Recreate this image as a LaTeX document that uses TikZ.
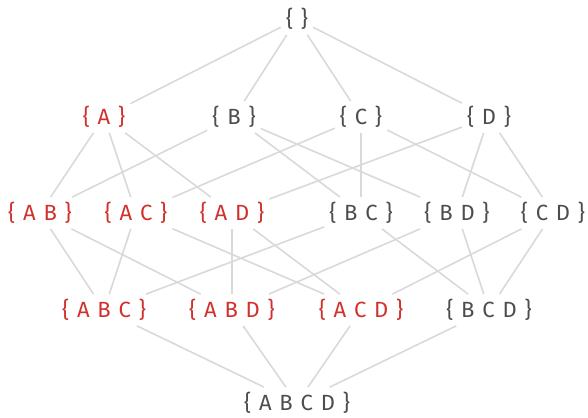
\documentclass[tikz,border=0pt]{standalone}
\usepackage{fontspec}
\setmainfont[LetterSpace=9]{Fira Sans}
\usepackage{xcolor}
\usepackage{tikz}
\usetikzlibrary{positioning}
\definecolor{setred}{HTML}{D0312D}
\definecolor{setgray}{HTML}{4D4D4D}
\definecolor{edgegray}{HTML}{D9D9D9}

\begin{document}
\begin{tikzpicture}[x=1pt,y=-1pt,
        font=\fontsize{22}{25}\selectfont,
        set node/.style={inner xsep=5pt,inner ysep=5pt,text=setgray},
        with a/.style={set node,text=setred},
        cover/.style={draw=edgegray,line width=1.6pt}]
      \useasboundingbox (0,0) rectangle (588,417);

      \node[set node] (e) at (297,19) {\{ \}};

      \node[with a] (a) at (104,117) {\{ A \}};
      \node[set node] (b) at (234,117) {\{ B \}};
      \node[set node] (c) at (361,117) {\{ C \}};
      \node[set node] (d) at (489,117) {\{ D \}};

      \node[with a] (ab) at (40,213) {\{ A B \}};
      \node[with a] (ac) at (136,213) {\{ A C \}};
      \node[with a] (ad) at (232,213) {\{ A D \}};
      \node[set node] (bc) at (361,213) {\{ B C \}};
      \node[set node] (bd) at (457,213) {\{ B D \}};
      \node[set node] (cd) at (553,213) {\{ C D \}};

      \node[with a] (abc) at (104,310) {\{ A B C \}};
      \node[with a] (abd) at (232,310) {\{ A B D \}};
      \node[with a] (acd) at (361,310) {\{ A C D \}};
      \node[set node] (bcd) at (489,310) {\{ B C D \}};

      \node[set node] (abcd) at (297,403) {\{ A B C D \}};

      \foreach \lo/\hi in {e/a,e/b,e/c,e/d,
          a/ab,a/ac,a/ad,b/ab,b/bc,b/bd,c/ac,c/bc,c/cd,d/ad,d/bd,d/cd,
          ab/abc,ab/abd,ac/abc,ac/acd,ad/abd,ad/acd,
          bc/abc,bc/bcd,bd/abd,bd/bcd,cd/acd,cd/bcd,
          abc/abcd,abd/abcd,acd/abcd,bcd/abcd}
        \draw[cover] (\lo) -- (\hi);
    \end{tikzpicture}
\end{document}
